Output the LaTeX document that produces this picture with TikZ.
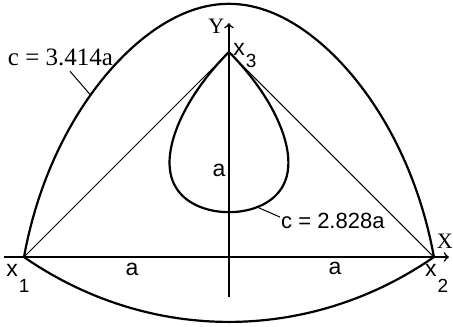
\documentclass[tikz,border=0pt]{standalone}
\usepackage{fontspec}
\setmainfont{Liberation Sans}
\newfontfamily\timesfont{Liberation Serif}

\tikzset{
  curve/.style={line width=1.1pt, line join=round},
  axis/.style={line width=0.8pt, ->},
  side/.style={line width=0.5pt},
  leader/.style={line width=0.5pt},
  lbl/.style={inner sep=0pt, font=\fontsize{11.5}{13}\selectfont},
  sublbl/.style={inner sep=0pt, anchor=base west, font=\fontsize{11.5}{13}\selectfont},
}

% points of d(x1)+d(x2)+d(x3) = #1, traced from (0,#2) out to at most #3
\newcommand\levelpath[3]{%
  \gdef\levelpts{}%
  \foreach \t in {0,2,...,358}{%
    \xdef\rlo{0}\xdef\rhi{#3}%
    \foreach \k in {1,...,16}{%
      \pgfmathsetmacro\rmid{(\rlo+\rhi)/2}%
      \pgfmathsetmacro\px{\rmid*cos(\t)}%
      \pgfmathsetmacro\py{#2+\rmid*sin(\t)}%
      \pgfmathsetmacro\fsum{sqrt((\px+1)^2+(\py)^2)+sqrt((\px-1)^2+(\py)^2)+sqrt((\px)^2+(\py-1)^2)}%
      \ifdim\fsum pt<#1pt\xdef\rlo{\rmid}\else\xdef\rhi{\rmid}\fi
    }%
    \pgfmathsetmacro\px{\rlo*cos(\t)}%
    \pgfmathsetmacro\py{#2+\rlo*sin(\t)}%
    \ifnum\t=0 \xdef\levelpts{(\px,\py)}\else\xdef\levelpts{\levelpts -- (\px,\py)}\fi
  }%
}
\newcommand\subs[2]{\raisebox{-#1}{\fontsize{9.5}{9}\selectfont #2}}

\begin{document}
\begin{tikzpicture}[x=102.5pt, y=102.5pt]
  \useasboundingbox (-1.117,-0.341) rectangle (1.093,1.254);

  \coordinate (x1) at (-1,0);
  \coordinate (x2) at (1,0);
  \coordinate (x3) at (0,1);

  % axes
  \coordinate (xl) at (-1.098,0);
  \coordinate (xr) at (1.073,0);
  \coordinate (yb) at (0,-0.195);
  \coordinate (yt) at (0,1.141);
  \draw[axis] (xl) -- (xr);
  \draw[axis] (yb) -- (yt);
  \node[lbl, anchor=base west, font=\timesfont\fontsize{11}{13}\selectfont] (X) at (1.012,0.044) {X};
  \node[lbl, anchor=base west, font=\timesfont\fontsize{11}{13}\selectfont] (Y) at (-0.102,1.093) {Y};

  % triangle
  \draw[side] (x1) -- (x3) -- (x2);

  % the two level curves
  \levelpath{3.4142}{0.5774}{1.6}
  \draw[curve] \levelpts -- cycle;
  \levelpath{2.8284}{0.5774}{0.6}
  \draw[curve] \levelpts -- cycle;

  % vertex labels
  \node[sublbl] (lx1) at (-1.088,-0.093) {x\hspace{0.5pt}\subs{8pt}{1}};
  \node[sublbl] (lx2) at (0.955,-0.093) {x\hspace{0.5pt}\subs{8pt}{2}};
  \node[sublbl] (lx3) at (0.02,0.985) {x\hspace{0.5pt}\subs{6pt}{3}};

  % lengths
  \node[lbl] (a1) at (-0.473,-0.059) {a};
  \node[lbl] (a2) at (0.517,-0.056) {a};
  \node[lbl] (a3) at (-0.049,0.424) {a};

  % curve labels
  \node[lbl, font=\timesfont\fontsize{12.5}{14}\selectfont] (c1) at (-0.822,0.976) {c = 3.414a};
  \coordinate (k1) at (-0.776,0.907);
  \coordinate (p1) at (-0.675,0.79);
  \draw[leader] (k1) -- (p1);
  \node[lbl, font=\fontsize{11}{13}\selectfont] (c2) at (0.507,0.178) {c = 2.828a};
  \coordinate (k2) at (0.249,0.195);
  \coordinate (p2) at (0.137,0.244);
  \draw[leader] (k2) -- (p2);
\end{tikzpicture}
\end{document}
